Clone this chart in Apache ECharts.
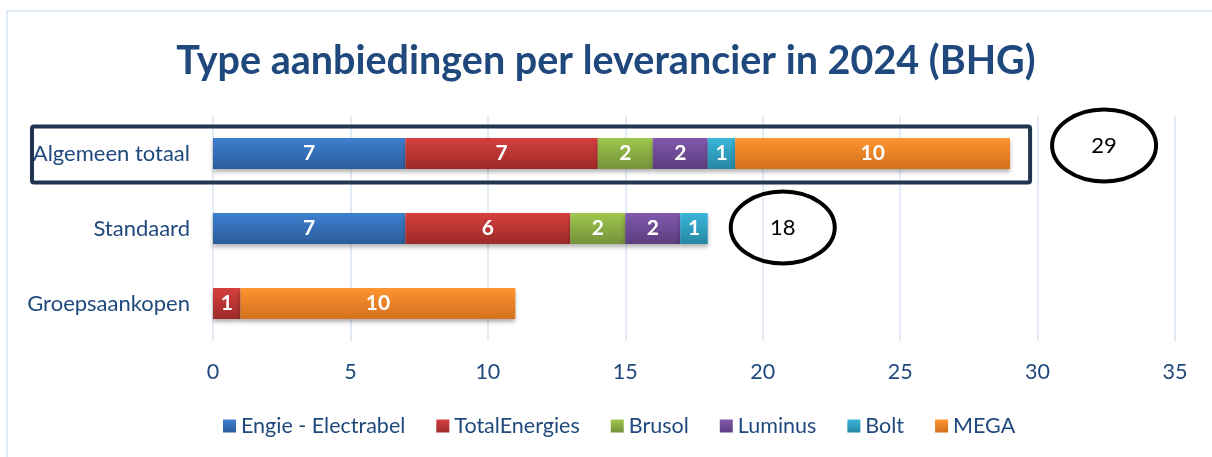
<!DOCTYPE html>
<html>
<head>
<meta charset="utf-8">
<script src="https://cdn.jsdelivr.net/npm/echarts@6/dist/echarts.min.js"></script>
<style>
  html, body { margin: 0; padding: 0; background: #fff; }
  #chart { width: 1212px; height: 457px; }
</style>
</head>
<body>
<div id="chart"></div>
<script>
// categories, top to bottom
var categories = ["Algemeen totaal", "Standaard", "Groepsaankopen"];
var suppliers = ["Engie - Electrabel", "TotalEnergies", "Brusol", "Luminus", "Bolt", "MEGA"];
// values per supplier, in category order
var engie = [7, 7, 0];
var totalEnergies = [7, 6, 1];
var brusol = [2, 2, 0];
var luminus = [2, 2, 0];
var bolt = [1, 1, 0];
var mega = [10, 0, 10];
var xTicks = [0, 5, 10, 15, 20, 25, 30, 35];

var values = [engie, totalEnergies, brusol, luminus, bolt, mega];
// gradient top / bottom colours
var colors = [
  ["#3d80d0", "#2b5c9b"],
  ["#d5403d", "#9c2a29"],
  ["#9fc74e", "#74923a"],
  ["#8159ad", "#5b3e7f"],
  ["#3ab6d9", "#2587a4"],
  ["#ff9431", "#d2701d"]
];
var textColor = "#1f497d";
var font = "Lato, 'Open Sans', sans-serif";

var myChart = echarts.init(document.getElementById("chart"));

var series = suppliers.map(function (name, i) {
  return {
    name: name,
    type: "bar",
    stack: "total",
    barWidth: 31,
    data: values[i],
    itemStyle: {
      color: new echarts.graphic.LinearGradient(0, 0, 0, 1, [
        { offset: 0, color: colors[i][0] },
        { offset: 1, color: colors[i][1] }
      ]),
      shadowColor: "rgba(0,0,0,0.3)",
      shadowBlur: 4,
      shadowOffsetY: 3
    },
    label: {
      show: true,
      position: "inside",
      color: "#fff",
      fontFamily: font,
      fontWeight: "bold",
      fontSize: 21,
      formatter: function (p) {
        return p.value ? p.value : "";
      }
    }
  };
});

var option = {
  animation: false,
  color: colors.map(function (c) { return c[0]; }),
  title: {
    text: "Type aanbiedingen per leverancier in 2024 (BHG)",
    left: "center",
    top: 36,
    textStyle: {
      color: textColor,
      fontFamily: font,
      fontWeight: "bold",
      fontSize: 39.5
    }
  },
  legend: {
    bottom: 15,
    left: 218,
    itemWidth: 13,
    itemHeight: 13,
    itemGap: 31,
    icon: "rect",
    textStyle: {
      color: textColor,
      fontFamily: font,
      fontSize: 21.5
    },
    data: suppliers
  },
  grid: {
    left: 213,
    right: 37,
    top: 116,
    bottom: 116
  },
  xAxis: {
    type: "value",
    min: xTicks[0],
    max: xTicks[xTicks.length - 1],
    interval: 5,
    axisLine: { show: false },
    axisTick: { show: false },
    axisLabel: {
      color: textColor,
      fontFamily: font,
      fontSize: 21.5,
      margin: 20
    },
    splitLine: {
      lineStyle: { color: "#d8e3f3", width: 1.5 }
    }
  },
  yAxis: {
    type: "category",
    inverse: true,
    data: categories,
    axisLine: { show: false },
    axisTick: { show: false },
    axisLabel: {
      color: textColor,
      fontFamily: font,
      fontSize: 22,
      margin: 23
    }
  },
  series: series
};

myChart.setOption(option);

// totals drawn as hand-marked annotations
var totals = categories.map(function (c, j) {
  return values.reduce(function (s, v) { return s + v[j]; }, 0);
});

function annotate() {
  var g = [];
  // light frame edges (left and top) round the chart
  g.push({
    type: "polyline",
    shape: { points: [[7, 457], [7, 11], [1212, 11]] },
    style: { fill: "none", stroke: "#d6e2f4", lineWidth: 1.5 },
    silent: true
  });
  var top = myChart.convertToPixel({ yAxisIndex: 0 }, categories[0]);
  var endTop = myChart.convertToPixel({ xAxisIndex: 0 }, totals[0]);
  g.push({
    type: "rect",
    shape: { x: 32, y: top - 27, width: endTop + 20 - 32, height: 56, r: 2 },
    style: { fill: "none", stroke: "#1f3550", lineWidth: 4 },
    z: 10
  });
  var marks = [
    { idx: 0, dx: 94, dy: -8 },
    { idx: 1, dx: 75, dy: -1 }
  ];
  marks.forEach(function (m) {
    var cx = myChart.convertToPixel({ xAxisIndex: 0 }, totals[m.idx]) + m.dx;
    var cy = myChart.convertToPixel({ yAxisIndex: 0 }, categories[m.idx]) + m.dy;
    g.push({
      type: "ellipse",
      shape: { cx: cx, cy: cy, rx: 52, ry: 36 },
      style: { fill: "none", stroke: "#000", lineWidth: 4 },
      z: 10
    });
    g.push({
      type: "text",
      x: cx,
      y: cy,
      style: {
        text: String(totals[m.idx]),
        fill: "#000",
        font: "22px " + font,
        align: "center",
        verticalAlign: "middle"
      },
      z: 10
    });
  });
  myChart.setOption({ graphic: g });
}
annotate();

window.addEventListener("resize", function () {
  myChart.resize();
  annotate();
});
</script>
</body>
</html>
